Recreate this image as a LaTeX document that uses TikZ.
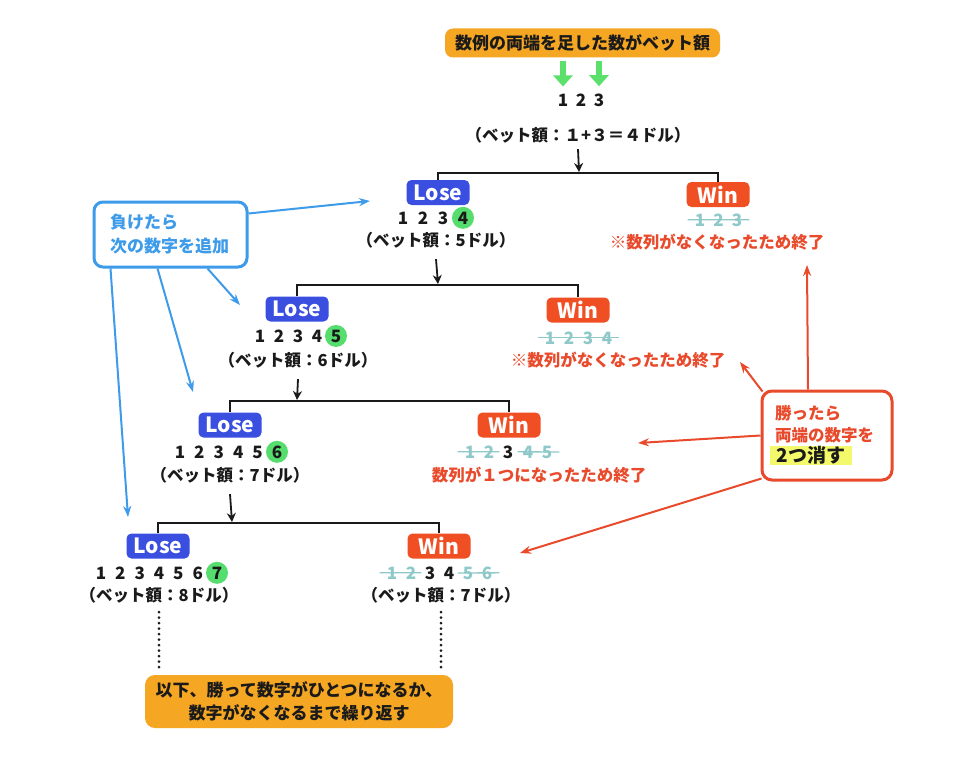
\documentclass[tikz,border=0pt]{standalone}
\usepackage{fontspec}
\setmainfont{Noto Sans CJK JP}
\usetikzlibrary{arrows.meta}
\definecolor{ink}{HTML}{1A1A1A}
\definecolor{orng}{HTML}{F5A623}
\definecolor{loseblue}{HTML}{3A4EE0}
\definecolor{winred}{HTML}{F04E23}
\definecolor{redtxt}{HTML}{E84A2B}
\definecolor{gcirc}{HTML}{55DD6E}
\definecolor{garrow}{HTML}{5CE06C}
\definecolor{strk}{HTML}{8EC8C8}
\definecolor{bluec}{HTML}{3D9BE9}
\definecolor{yel}{HTML}{F3F96B}
\begin{document}
\begin{tikzpicture}[x=1pt,y=-1pt,
  lbadge/.style={fill=loseblue, rounded corners=5pt, text=white, font=\fontsize{21}{21}\selectfont\bfseries, minimum width=63pt, minimum height=25pt, inner sep=0pt},
  wbadge/.style={lbadge, fill=winred},
  dg/.style={font=\fontsize{17}{17}\selectfont\bfseries, text=ink, inner sep=0pt, anchor=base, yshift=-6pt},
  dgs/.style={dg, text=strk},
  dgc/.style={dg, circle, fill=gcirc, minimum size=22pt},
  lbl/.style={font=\fontsize{16.5}{16.5}\selectfont\bfseries, text=ink, inner sep=0pt},
  note/.style={font=\fontsize{16.5}{16.5}\selectfont\bfseries, text=redtxt, inner sep=0pt},
  tree/.style={line width=2pt, draw=ink},
  down/.style={line width=1.8pt, draw=ink, -{Stealth[length=9pt,width=9pt]}},
  strike/.style={draw=strk, line width=1.3pt},
  barrow/.style={draw=bluec, line width=2pt, -{Stealth[length=11pt,width=8pt]}},
  rarrow/.style={draw=redtxt, line width=2pt, -{Stealth[length=11pt,width=8pt]}},
  ga/.style={draw=garrow, line width=6pt, -{Triangle[length=11pt,width=19pt]}},
  dots/.style={draw=ink, line width=3pt, line cap=round, dash pattern=on 0pt off 5.5pt},
  obox/.style={fill=orng, inner sep=0pt, text=ink, font=\fontsize{17}{23}\selectfont\bfseries}
]
\fill[white] (0,0) rectangle (960,768);
\useasboundingbox (0,0) rectangle (960,768);

% ---- top
\node[obox, rounded corners=8pt, minimum width=275pt, minimum height=29pt] (title) at (582.5,43) {数例の両端を足した数がベット額};
\foreach \i/\x in {1/563,2/581,3/599}{\node[dg] (t\i) at (\x,100) {\i};}
\draw[ga] ([yshift=-3pt]t1.north |- title.south) -- ([yshift=7pt]t1.north);
\draw[ga] ([yshift=-3pt]t3.north |- title.south) -- ([yshift=7pt]t3.north);
\node[lbl] (tb) at (578,135) {（ベット額：１+３＝４ドル）};
\coordinate (h1) at (579,172);
\draw[down] ([yshift=-6pt]tb.south) -- (h1);

% ---- level 1
\node[lbadge] (L1) at (438,192.5) {Lose};
\node[wbadge] (W1) at (718,194.5) {Win};
\draw[tree] (L1.north) -- ([yshift=-1pt]L1.north |- h1) -- ([yshift=-1pt]W1.north |- h1) -- (W1.north);
\foreach \i/\x in {1/403,2/423,3/443}{\node[dg] (a\i) at (\x,218) {\i};}
\node[dgc] (a4) at (463,218) {4};
\node[lbl] (L1b) at (436,240) {（ベット額：5ドル）};
\foreach \i/\x in {1/700,2/718.5,3/737}{\node[dgs] (w1d\i) at (\x,220) {\i};}
\draw[strike] ([xshift=-7pt]w1d1.west) -- ([xshift=7pt]w1d3.east);
\node[note] (W1n) at (717,242) {※数列がなくなったため終了};
\coordinate (h2) at (438,284);
\draw[down] ([yshift=-11pt]L1b.south) -- (h2);

% ---- level 2
\node[lbadge] (L2) at (297,309) {Lose};
\node[wbadge] (W2) at (578,310) {Win};
\draw[tree] (L2.north) -- ([yshift=-1pt]L2.north |- h2) -- ([yshift=-1pt]W2.north |- h2) -- (W2.north);
\foreach \i/\x in {1/260,2/279,3/298,4/317}{\node[dg] (b\i) at (\x,336) {\i};}
\node[dgc] (b5) at (336,336) {5};
\node[lbl] (L2b) at (298,360) {（ベット額：6ドル）};
\foreach \i/\x in {1/550,2/569,3/588,4/607}{\node[dgs] (w2d\i) at (\x,338) {\i};}
\draw[strike] ([xshift=-7pt]w2d1.west) -- ([xshift=7pt]w2d4.east);
\node[note] (W2n) at (618,360) {※数列がなくなったため終了};
\coordinate (h3) at (297,400);
\draw[down] ([yshift=-11pt]L2b.south) -- (h3);

% ---- level 3
\node[lbadge] (L3) at (230,425) {Lose};
\node[wbadge] (W3) at (509,425) {Win};
\draw[tree] (L3.north) -- ([yshift=-1pt]L3.north |- h3) -- ([yshift=-1pt]W3.north |- h3) -- (W3.north);
\foreach \i/\x in {1/180,2/199.4,3/218.8,4/238.2,5/257.6}{\node[dg] (c\i) at (\x,452) {\i};}
\node[dgc] (c6) at (277,452) {6};
\node[lbl] (L3b) at (230,475) {（ベット額：7ドル）};
\foreach \i/\x in {1/470,2/489,4/528,5/547}{\node[dgs] (w3d\i) at (\x,452) {\i};}
\node[dg] (w3d3) at (508,452) {3};
\draw[strike] ([xshift=-7pt]w3d1.west) -- ([xshift=5pt]w3d2.east);
\draw[strike] ([xshift=-5pt]w3d4.west) -- ([xshift=7pt]w3d5.east);
\node[note] (W3n) at (539,475) {数列が１つになったため終了};
\coordinate (h4) at (232,522);
\draw[down] ([yshift=-11pt]L3b.south) -- (h4);

% ---- level 4
\node[lbadge] (L4) at (158,546) {Lose};
\node[wbadge] (W4) at (439,546) {Win};
\draw[tree] (L4.north) -- ([yshift=-1pt]L4.north |- h4) -- ([yshift=-1pt]W4.north |- h4) -- (W4.north);
\foreach \i/\x in {1/101,2/120.3,3/139.7,4/159,5/178.3,6/197.7}{\node[dg] (d\i) at (\x,573) {\i};}
\node[dgc] (d7) at (217,573) {7};
\node[lbl] (L4b) at (159,595) {（ベット額：8ドル）};
\foreach \i/\x in {1/392,2/411,5/468,6/487}{\node[dgs] (w4d\i) at (\x,573) {\i};}
\foreach \i/\x in {3/430,4/449}{\node[dg] (w4d\i) at (\x,573) {\i};}
\draw[strike] ([xshift=-7pt]w4d1.west) -- ([xshift=5pt]w4d2.east);
\draw[strike] ([xshift=-5pt]w4d5.west) -- ([xshift=7pt]w4d6.east);
\node[lbl] (W4b) at (441,595) {（ベット額：7ドル）};

% ---- bottom
\node[obox, rounded corners=10pt, minimum width=308pt, minimum height=53pt, align=center] (bottom) at (299,701.5) {以下、勝って数字がひとつになるか、\\数字がなくなるまで繰り返す};
\draw[dots] ([yshift=-9pt]L4b.south) -- ([yshift=7pt]L4b.south |- bottom.north);
\draw[dots] ([yshift=-9pt]W4b.south) -- ([yshift=7pt]W4b.south |- bottom.north);

% ---- blue callout
\node[draw=bluec, line width=3pt, fill=white, rounded corners=9pt, minimum width=153pt, minimum height=65pt, inner xsep=16pt, text width=121pt, align=left, text=bluec, font=\fontsize{17}{24}\selectfont\bfseries] (bbox) at (170.5,234.5) {負けたら\\次の数字を追加};
\coordinate (b1) at (370,201);
\coordinate (b2) at (240,305);
\coordinate (b3) at (193,392);
\coordinate (b4) at (128,517);
\draw[barrow] ([yshift=21pt]bbox.east) -- (b1);
\draw[barrow] ([xshift=37pt]bbox.south) -- (b2);
\draw[barrow] ([xshift=-13pt]bbox.south) -- (b3);
\draw[barrow] ([xshift=-60pt]bbox.south) -- (b4);

% ---- red callout
\node[draw=redtxt, line width=3pt, fill=white, rounded corners=10pt, minimum width=130pt, minimum height=89pt] (rbox) at (827,435.5) {};
\node[note, anchor=west] (r1t) at (775,413) {勝ったら};
\node[note, anchor=west] (r2t) at (775,435) {両端の数字を};
\node[fill=yel, anchor=west, inner xsep=4pt, inner ysep=0pt, minimum width=82pt, text=ink, font=\fontsize{19}{19}\selectfont\bfseries] (r3t) at (770,455.5) {2つ消す};
\coordinate (r1) at (807,265);
\coordinate (r2) at (740,362);
\coordinate (r3) at (638,443);
\coordinate (r4) at (520,553);
\draw[rarrow] ([xshift=-19pt]rbox.north) -- (r1);
\draw[rarrow] ([xshift=2pt,yshift=-2pt]rbox.north west) -- (r2);
\draw[rarrow] (rbox.west) -- (r3);
\draw[rarrow] ([xshift=1pt,yshift=3pt]rbox.south west) -- (r4);
\end{tikzpicture}
\end{document}
